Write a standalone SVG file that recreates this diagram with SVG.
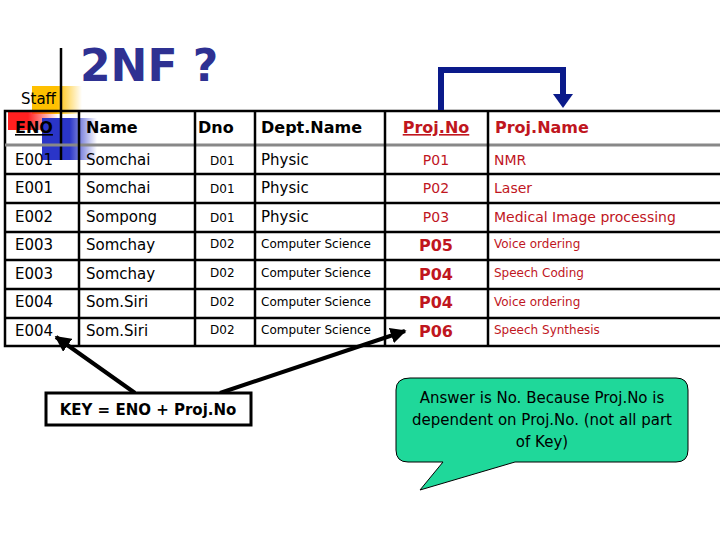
<svg xmlns="http://www.w3.org/2000/svg" width="720" height="540" viewBox="0 0 720 540">
<defs>
<style>
.t{font-family:"DejaVu Sans",sans-serif;font-size:15px;fill:#000}
.h{font-family:"DejaVu Sans",sans-serif;font-size:16px;font-weight:bold;fill:#000}
.r{font-family:"DejaVu Sans",sans-serif;font-size:14px;fill:#c0161e}
.rb{font-family:"DejaVu Sans",sans-serif;font-size:16px;font-weight:bold;fill:#c0161e}
.s{font-family:"DejaVu Sans",sans-serif;font-size:12px;fill:#000}
.sr{font-family:"DejaVu Sans",sans-serif;font-size:12px;fill:#c0161e}
.g{stroke:#000;stroke-width:2.5}
</style>
<linearGradient id="yg" x1="0" x2="1"><stop offset="0.5" stop-color="#ffc000"/><stop offset="1" stop-color="#ffc000" stop-opacity="0"/></linearGradient>
<linearGradient id="rg" x1="0" x2="1"><stop offset="0.4" stop-color="#ff2020"/><stop offset="1" stop-color="#ff2020" stop-opacity="0"/></linearGradient>
<linearGradient id="bg" x1="0" x2="1"><stop offset="0.5" stop-color="#2a35c8"/><stop offset="1" stop-color="#2a35c8" stop-opacity="0"/></linearGradient>
<marker id="ah" viewBox="0 0 10 10" refX="9" refY="5" markerWidth="4" markerHeight="4" orient="auto"><path d="M0,0L10,5L0,10z" fill="#000"/></marker>
</defs>
<g id="deco">
<rect x="32" y="86" width="50" height="28" fill="url(#yg)"/>
<rect x="8" y="112" width="50" height="18" fill="url(#rg)"/>
<rect x="42" y="118" width="55" height="42" fill="url(#bg)"/>
<line x1="61" y1="48" x2="61" y2="160" stroke="#000" stroke-width="2.5"/>
</g>
<text x="80" y="81" font-family="Verdana,'DejaVu Sans',sans-serif" font-size="44" font-weight="bold" fill="#2e3192">2NF ?</text>
<text x="21" y="104" class="t" font-size="16">Staff</text>
<g id="table">
<rect x="5" y="111" width="725" height="235" fill="none" class="g"/>
<line x1="5" y1="145" x2="720" y2="145" stroke="#888" stroke-width="3"/>
<g class="g">
<line x1="5" y1="174" x2="720" y2="174"/><line x1="5" y1="203" x2="720" y2="203"/>
<line x1="5" y1="232" x2="720" y2="232"/><line x1="5" y1="260" x2="720" y2="260"/>
<line x1="5" y1="289" x2="720" y2="289"/><line x1="5" y1="318" x2="720" y2="318"/>
<line x1="79" y1="111" x2="79" y2="346"/><line x1="195" y1="111" x2="195" y2="346"/>
<line x1="255" y1="111" x2="255" y2="346"/><line x1="385" y1="111" x2="385" y2="346"/>
<line x1="488" y1="111" x2="488" y2="346"/>
</g>
<text x="15" y="133" class="h" text-decoration="underline">ENO</text>
<text x="86" y="133" class="h">Name</text>
<text x="198" y="133" class="h">Dno</text>
<text x="261" y="133" class="h">Dept.Name</text>
<text x="436" y="133" class="h" style="fill:#c0161e" text-anchor="middle" text-decoration="underline">Proj.No</text>
<text x="495" y="133" class="h" style="fill:#c0161e">Proj.Name</text>
<g class="t">
<text x="15" y="165">E001</text><text x="86" y="165">Somchai</text><text x="210" y="165" class="s">D01</text><text x="261" y="165">Physic</text>
<text x="15" y="193">E001</text><text x="86" y="193">Somchai</text><text x="210" y="193" class="s">D01</text><text x="261" y="193">Physic</text>
<text x="15" y="222">E002</text><text x="86" y="222">Sompong</text><text x="210" y="222" class="s">D01</text><text x="261" y="222">Physic</text>
<text x="15" y="250">E003</text><text x="86" y="250">Somchay</text><text x="210" y="248" class="s">D02</text><text x="261" y="248" class="s">Computer Science</text>
<text x="15" y="279">E003</text><text x="86" y="279">Somchay</text><text x="210" y="277" class="s">D02</text><text x="261" y="277" class="s">Computer Science</text>
<text x="15" y="307">E004</text><text x="86" y="307">Som.Siri</text><text x="210" y="306" class="s">D02</text><text x="261" y="306" class="s">Computer Science</text>
<text x="15" y="336">E004</text><text x="86" y="336">Som.Siri</text><text x="210" y="334" class="s">D02</text><text x="261" y="334" class="s">Computer Science</text>
</g>
<g text-anchor="middle">
<text x="436" y="165" class="r">P01</text><text x="436" y="193" class="r">P02</text><text x="436" y="222" class="r">P03</text>
<text x="436" y="251" class="rb">P05</text><text x="436" y="280" class="rb">P04</text><text x="436" y="308" class="rb">P04</text><text x="436" y="337" class="rb">P06</text>
</g>
<text x="494" y="165" class="r">NMR</text><text x="494" y="193" class="r">Laser</text><text x="494" y="222" class="r">Medical Image processing</text>
<text x="494" y="248" class="sr">Voice ordering</text><text x="494" y="277" class="sr">Speech Coding</text><text x="494" y="306" class="sr">Voice ordering</text><text x="494" y="334" class="sr">Speech Synthesis</text>
</g>
<g id="connectors">
<path d="M441,110V70H563V96" fill="none" stroke="#0a1a8a" stroke-width="6"/>
<path d="M553,94H573L563,108z" fill="#0a1a8a"/>
<line x1="135" y1="393" x2="56" y2="337" stroke="#000" stroke-width="4" marker-end="url(#ah)"/>
<line x1="220" y1="393" x2="405" y2="331" stroke="#000" stroke-width="4" marker-end="url(#ah)"/>
</g>
<g id="key">
<rect x="46" y="393" width="205" height="32" fill="#fff" stroke="#000" stroke-width="3"/>
<text x="148" y="415" text-anchor="middle" class="t" font-size="16" font-weight="bold">KEY = ENO + Proj.No</text>
</g>
<g id="callout">
<path d="M410,378H676Q688,378 688,390V450Q688,462 676,462H515L420,490L443,462H408Q396,462 396,450V390Q396,378 410,378z" fill="#1fd89a" stroke="#000" stroke-width="1"/>
<g class="t" font-size="16" text-anchor="middle">
<text x="542" y="403">Answer is No. Because Proj.No is</text>
<text x="542" y="425">dependent on Proj.No. (not all part</text>
<text x="542" y="447">of Key)</text>
</g>
</g>
</svg>
